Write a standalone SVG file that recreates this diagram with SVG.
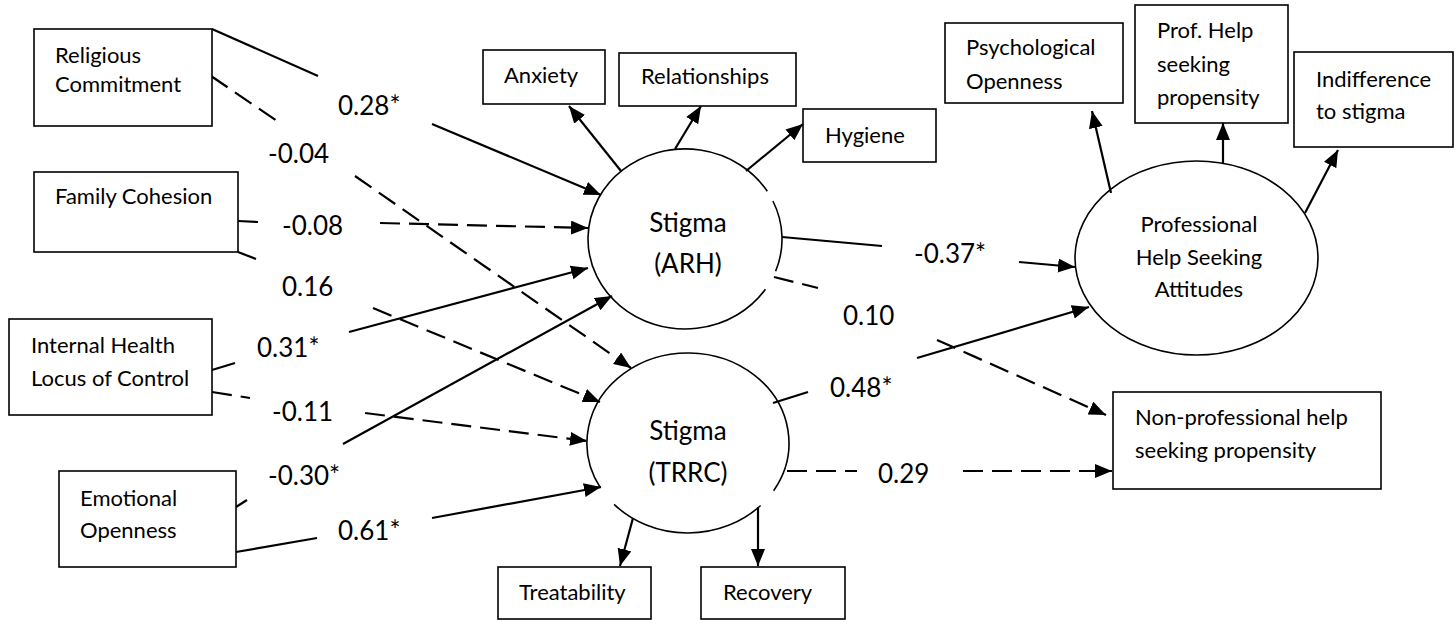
<svg xmlns="http://www.w3.org/2000/svg" width="1456" height="620" viewBox="0 0 1456 620">
  <defs>
    <marker id="arrow" markerUnits="userSpaceOnUse" markerWidth="18" markerHeight="16" refX="17" refY="7" orient="auto">
      <path d="M0,0 L17,7 L0,14 z" fill="#000"/>
    </marker>
    <style>
      .box { fill: #fff; stroke: #000; stroke-width: 1.6; }
      .latent { fill: none; stroke: #000; stroke-width: 1.6; }
      .txt { font-family: Lato, "Liberation Sans", sans-serif; font-size: 22px; fill: #000; }
      .big { font-family: Lato, "Liberation Sans", sans-serif; font-size: 26px; fill: #000; text-anchor: middle; }
      .lbl { font-family: Lato, "Liberation Sans", sans-serif; font-size: 26px; fill: #000; }
      .ln { fill: none; stroke: #000; stroke-width: 2.2; }
      .dash { stroke-dasharray: 20 9; }
      .arr { marker-end: url(#arrow); }
    </style>
  </defs>
  <rect width="1456" height="620" fill="#fff"/>

  <!-- path connectors: each coefficient sits in a break of its line -->
  <g id="connectors">
    <!-- Religious Commitment -> Stigma (ARH) -->
    <line class="ln" x1="212" y1="29" x2="318" y2="76"/>
    <line class="ln arr" x1="432" y1="124" x2="601" y2="195"/>
    <!-- Religious Commitment -> Stigma (TRRC) -->
    <line class="ln dash" x1="211" y1="76" x2="277" y2="121"/>
    <line class="ln dash arr" x1="355" y1="176" x2="631" y2="368"/>
    <!-- Family Cohesion -> Stigma (ARH) -->
    <line class="ln dash" x1="238" y1="221" x2="258" y2="222"/>
    <line class="ln dash arr" x1="380" y1="223" x2="588" y2="228"/>
    <!-- Family Cohesion -> Stigma (TRRC) -->
    <line class="ln dash" x1="238" y1="252" x2="256" y2="259"/>
    <line class="ln dash arr" x1="373" y1="308" x2="600" y2="402"/>
    <!-- Internal Health Locus of Control -> Stigma (ARH) -->
    <line class="ln" x1="212" y1="370" x2="235" y2="363"/>
    <line class="ln arr" x1="349" y1="332" x2="588" y2="268"/>
    <!-- Internal Health Locus of Control -> Stigma (TRRC) -->
    <line class="ln dash" x1="212" y1="392" x2="250" y2="398"/>
    <line class="ln dash arr" x1="365" y1="413" x2="587" y2="441"/>
    <!-- Emotional Openness -> Stigma (ARH) -->
    <line class="ln" x1="236" y1="507" x2="247" y2="500"/>
    <line class="ln arr" x1="343" y1="444" x2="612" y2="296"/>
    <!-- Emotional Openness -> Stigma (TRRC) -->
    <line class="ln" x1="236" y1="552" x2="317" y2="538"/>
    <line class="ln arr" x1="432" y1="518" x2="601" y2="487"/>
    <!-- Stigma (ARH) indicators -->
    <line class="ln arr" x1="621" y1="171" x2="569" y2="106"/>
    <line class="ln arr" x1="675" y1="149" x2="701" y2="106"/>
    <line class="ln arr" x1="746" y1="171" x2="803" y2="124"/>
    <!-- Stigma (ARH) -> outcomes -->
    <line class="ln" x1="782" y1="237" x2="882" y2="246"/>
    <line class="ln arr" x1="1019" y1="262" x2="1075" y2="267"/>
    <line class="ln dash" x1="774" y1="277" x2="818" y2="288"/>
    <line class="ln dash arr" x1="937" y1="340" x2="1106" y2="415"/>
    <!-- Stigma (TRRC) -> outcomes -->
    <line class="ln" x1="773" y1="403" x2="808" y2="392"/>
    <line class="ln arr" x1="917" y1="358" x2="1089" y2="307"/>
    <line class="ln dash" x1="787" y1="471" x2="857" y2="471"/>
    <line class="ln dash arr" x1="963" y1="471" x2="1112" y2="471"/>
    <!-- Stigma (TRRC) indicators -->
    <line class="ln arr" x1="633" y1="518" x2="620" y2="566"/>
    <line class="ln arr" x1="758" y1="507" x2="758" y2="566"/>
    <!-- Professional Help Seeking Attitudes indicators -->
    <line class="ln arr" x1="1111" y1="193" x2="1092" y2="111"/>
    <line class="ln arr" x1="1223" y1="163" x2="1223" y2="123"/>
    <line class="ln arr" x1="1305" y1="213" x2="1338" y2="150"/>
  </g>

  <!-- path coefficients -->
  <g id="coefficients" class="lbl">
    <text x="338" y="115">0.28*</text>
    <text x="268" y="163">-0.04</text>
    <text x="282" y="235">-0.08</text>
    <text x="282" y="296">0.16</text>
    <text x="257" y="357">0.31*</text>
    <text x="272" y="421">-0.11</text>
    <text x="268" y="485">-0.30*</text>
    <text x="338" y="540">0.61*</text>
    <text x="914" y="263">-0.37*</text>
    <text x="843" y="325">0.10</text>
    <text x="830" y="397">0.48*</text>
    <text x="878" y="483">0.29</text>
  </g>

  <!-- predictors -->
  <g id="religious-commitment">
    <rect class="box" x="34" y="29" width="178" height="97"/>
    <text class="txt" x="55" y="63">Religious</text>
    <text class="txt" x="55" y="92">Commitment</text>
  </g>
  <g id="family-cohesion">
    <rect class="box" x="34" y="172" width="204" height="80"/>
    <text class="txt" x="55" y="204">Family Cohesion</text>
  </g>
  <g id="internal-health-locus">
    <rect class="box" x="9" y="319" width="203" height="96"/>
    <text class="txt" x="31" y="353">Internal Health</text>
    <text class="txt" x="31" y="386">Locus of Control</text>
  </g>
  <g id="emotional-openness">
    <rect class="box" x="59" y="471" width="177" height="96"/>
    <text class="txt" x="80" y="506">Emotional</text>
    <text class="txt" x="80" y="538">Openness</text>
  </g>

  <!-- Stigma (ARH) and its indicators -->
  <g id="stigma-arh">
    <path class="latent" d="M772.9,201.0 A97,90 0 0 1 775.6,271.3 M765.4,289.3 A97,90 0 1 1 767.3,191.3"/>
    <text class="big" x="688" y="232">Stigma</text>
    <text class="big" x="688" y="273">(ARH)</text>
  </g>
  <g id="anxiety">
    <rect class="box" x="483" y="50" width="122" height="54"/>
    <text class="txt" x="504" y="83">Anxiety</text>
  </g>
  <g id="relationships">
    <rect class="box" x="619" y="53" width="177" height="53"/>
    <text class="txt" x="641" y="84">Relationships</text>
  </g>
  <g id="hygiene">
    <rect class="box" x="803" y="109" width="133" height="53"/>
    <text class="txt" x="825" y="143">Hygiene</text>
  </g>

  <!-- Stigma (TRRC) and its indicators -->
  <g id="stigma-trrc">
    <path class="latent" d="M760.6,505.5 A101,90 0 0 1 614.1,504.4 M600.5,488.0 A101,90 0 1 1 773.6,490.7"/>
    <text class="big" x="688" y="440">Stigma</text>
    <text class="big" x="688" y="482">(TRRC)</text>
  </g>
  <g id="treatability">
    <rect class="box" x="498" y="567" width="153" height="52"/>
    <text class="txt" x="519" y="600">Treatability</text>
  </g>
  <g id="recovery">
    <rect class="box" x="701" y="567" width="144" height="52"/>
    <text class="txt" x="723" y="600">Recovery</text>
  </g>

  <!-- outcomes -->
  <g id="professional-help-seeking-attitudes">
    <ellipse class="latent" cx="1196.5" cy="258" rx="121.5" ry="97"/>
    <text class="txt" x="1199" y="232" text-anchor="middle">Professional</text>
    <text class="txt" x="1199" y="265" text-anchor="middle">Help Seeking</text>
    <text class="txt" x="1199" y="297" text-anchor="middle">Attitudes</text>
  </g>
  <g id="psychological-openness">
    <rect class="box" x="945" y="23" width="178" height="80"/>
    <text class="txt" x="966" y="55">Psychological</text>
    <text class="txt" x="966" y="89">Openness</text>
  </g>
  <g id="prof-help-seeking-propensity">
    <rect class="box" x="1135" y="5" width="153" height="118"/>
    <text class="txt" x="1157" y="38">Prof. Help</text>
    <text class="txt" x="1157" y="72">seeking</text>
    <text class="txt" x="1157" y="105">propensity</text>
  </g>
  <g id="indifference-to-stigma">
    <rect class="box" x="1294" y="52" width="159" height="95"/>
    <text class="txt" x="1316" y="87">Indifference</text>
    <text class="txt" x="1316" y="119">to stigma</text>
  </g>
  <g id="non-professional-help">
    <rect class="box" x="1113" y="392" width="268" height="97"/>
    <text class="txt" x="1135" y="425">Non-professional help</text>
    <text class="txt" x="1135" y="458">seeking propensity</text>
  </g>
</svg>
